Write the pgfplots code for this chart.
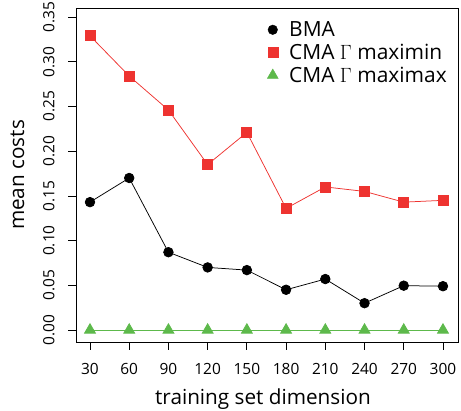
\documentclass[border=0pt]{standalone}
\usepackage{fontspec}
\setmainfont{Open Sans}
\usepackage{pgfplots}
\pgfplotsset{compat=1.18}
\definecolor{rred}{HTML}{EE3330}
\definecolor{rgreen}{HTML}{5DB94B}
\begin{document}
\begin{tikzpicture}[x=1bp,y=1bp]
\begin{axis}[
  at={(0,0)}, anchor=south west,
  scale only axis, width=382bp, height=334bp,
  xmin=19.3, xmax=311.5, ymin=-0.0134, ymax=0.3601,
  xtick={30,60,90,120,150,180,210,240,270,300},
  ytick={0,0.05,0.1,0.15,0.2,0.25,0.3,0.35},
  xtick pos=bottom, ytick pos=left,
  tick align=outside, major tick length=7.5bp,
  every tick/.style={black, line width=0.75bp},
  axis line style={line width=0.75bp},
  /pgf/number format/assume math mode=true,
  xticklabel style={anchor=base}, xticklabel shift=25bp,
  yticklabel style={rotate=90, anchor=base, /pgf/number format/fixed, /pgf/number format/fixed zerofill, /pgf/number format/precision=2},
  yticklabel shift=14bp,
  tick label style={font=\fontsize{15.5}{18}\selectfont},
  label style={font=\fontsize{20.8}{24}\selectfont},
  xlabel={training set dimension}, ylabel={mean costs},
  xlabel style={at={(axis description cs:0.4895,-0.1886)}, anchor=base},
  ylabel style={at={(axis description cs:-0.1361,0.5)}, anchor=base},
  legend cell align=left,
  legend style={draw=none, fill=none, at={(0.4925,0.972)}, anchor=north west, font=\fontsize{21}{24}\selectfont, row sep=2bp},
]
\addlegendimage{only marks, mark=*, mark size=4.8bp, black}
\addlegendentry{\hspace{9bp}BMA}
\addlegendimage{only marks, mark=square*, mark size=5bp, rred}
\addlegendentry{\hspace{9bp}CMA $\Gamma$ maximin}
\addlegendimage{only marks, mark=triangle*, mark size=6.3bp, rgreen}
\addlegendentry{\hspace{9bp}CMA $\Gamma$ maximax}
\addplot[forget plot, black, line width=0.75bp, mark=*, mark size=4.8bp] coordinates {
(30,0.143) (60,0.170) (90,0.087) (120,0.070) (150,0.067) (180,0.045) (210,0.057) (240,0.030) (270,0.0496) (300,0.049)};
\addplot[forget plot, rred, line width=0.75bp, mark=square*, mark size=5bp] coordinates {
(30,0.329) (60,0.284) (90,0.246) (120,0.185) (150,0.221) (180,0.136) (210,0.160) (240,0.155) (270,0.143) (300,0.145)};
\addplot[forget plot, rgreen, line width=0.75bp, mark=triangle*, mark size=6.3bp] coordinates {
(30,0) (60,0) (90,0) (120,0) (150,0) (180,0) (210,0) (240,0) (270,0) (300,0)};
\end{axis}
\pgfresetboundingbox
\useasboundingbox (-76bp,-69bp) rectangle (385bp,342bp);
\end{tikzpicture}
\end{document}
